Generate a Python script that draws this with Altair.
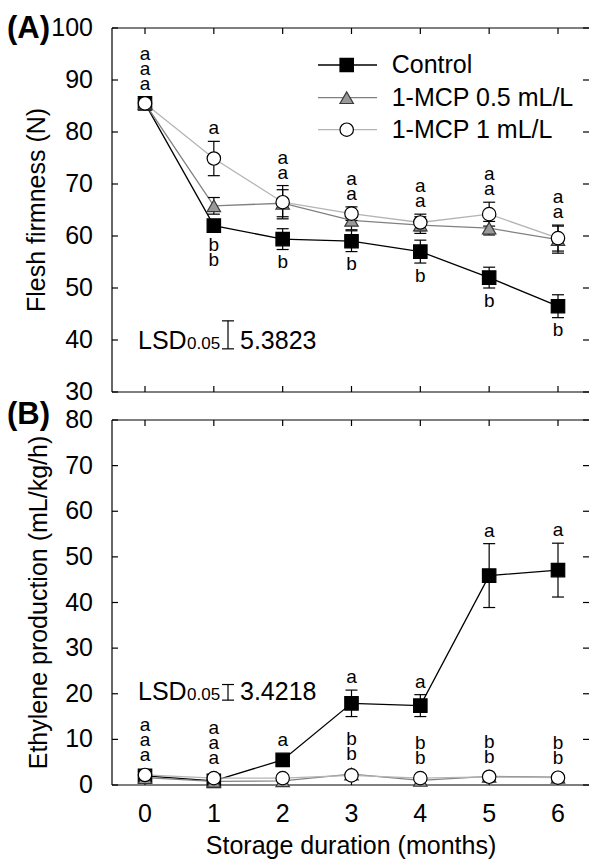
import altair as alt
import pandas as pd

# ---------------- data ----------------
months = [0, 1, 2, 3, 4, 5, 6]
series_names = ["Control", "1-MCP 0.5 mL/L", "1-MCP 1 mL/L"]

# (A) flesh firmness (N)
firm_control = [85.5, 62.0, 59.4, 59.0, 57.0, 52.0, 46.5]
firm_control_err = [1.0, 1.0, 2.0, 2.0, 2.2, 2.0, 2.2]
firm_mcp05 = [85.5, 65.8, 66.3, 63.0, 62.1, 61.5, 59.3]
firm_mcp05_err = [1.0, 1.6, 2.6, 1.8, 1.6, 1.3, 2.6]
firm_mcp1 = [85.5, 74.9, 66.5, 64.3, 62.6, 64.2, 59.6]
firm_mcp1_err = [1.0, 3.3, 3.2, 1.3, 1.6, 2.3, 2.5]

# (B) ethylene production (mL/kg/h)
eth_control = [2.0, 0.9, 5.5, 17.9, 17.4, 45.9, 47.1]
eth_control_err = [0.4, 0.3, 0.7, 2.9, 2.4, 7.0, 5.9]
eth_mcp05 = [1.6, 0.8, 0.9, 2.4, 1.0, 1.9, 1.7]
eth_mcp05_err = [0.3, 0.2, 0.2, 0.4, 0.2, 0.3, 0.3]
eth_mcp1 = [2.2, 1.5, 1.5, 2.1, 1.5, 1.8, 1.6]
eth_mcp1_err = [0.4, 0.3, 0.3, 0.4, 0.3, 0.3, 0.3]

# significance letters: month, side, group ("C"=control, "M"=both 1-MCP, "A"=all), letters
top_letter_month = [0, 1, 1, 2, 2, 3, 3, 4, 4, 5, 5, 6, 6]
top_letter_side = ["above", "above", "below", "above", "below", "above", "below",
                   "above", "below", "above", "below", "above", "below"]
top_letter_group = ["A", "M", "C", "M", "C", "M", "C", "M", "C", "M", "C", "M", "C"]
top_letter_text = ["aaa", "a", "bb", "aa", "b", "aa", "b", "aa", "b", "aa", "b", "aa", "b"]

bot_letter_month = [0, 1, 2, 3, 3, 4, 4, 5, 5, 6, 6]
bot_letter_side = ["above"] * 11
bot_letter_group = ["A", "A", "C", "C", "M", "C", "M", "C", "M", "C", "M"]
bot_letter_text = ["aaa", "aaa", "a", "a", "bb", "a", "bb", "a", "bb", "a", "bb"]

y_ticks_top = [30, 40, 50, 60, 70, 80, 90, 100]
y_ticks_bot = [0, 10, 20, 30, 40, 50, 60, 70, 80]

LSD_TOP = 5.3823
LSD_BOT = 3.4218

# ---------------- style ----------------
FONT = "Liberation Sans"
FS = 25
W = 478
H_TOP = 364
H_BOT = 365
LEFT_MARGIN = 112
TOP_MARGIN = 28
X_DOMAIN = [-0.4794, 6.465]
TOP_DOMAIN = [30, 100]
BOT_DOMAIN = [0, 80]
MARK_SIZE = 180
R_PX = MARK_SIZE ** 0.5 / 2

line_color = {"Control": "#000000", "1-MCP 0.5 mL/L": "#808080", "1-MCP 1 mL/L": "#b4b4b4"}
fill_color = {"Control": "#000000", "1-MCP 0.5 mL/L": "#999999", "1-MCP 1 mL/L": "#ffffff"}
stroke_color = {"Control": "#000000", "1-MCP 0.5 mL/L": "#3a3a3a", "1-MCP 1 mL/L": "#000000"}
shape_of = {"Control": "square", "1-MCP 0.5 mL/L": "triangle-up", "1-MCP 1 mL/L": "circle"}
group_members = {"C": ["Control"], "M": ["1-MCP 0.5 mL/L", "1-MCP 1 mL/L"], "A": series_names}


def long_df(means, errs):
    rows = []
    for s, m, e in zip(series_names, means, errs):
        for mo, v, er in zip(months, m, e):
            rows.append(dict(month=mo, series=s, mean=v, err=er, lo=v - er, hi=v + er))
    return pd.DataFrame(rows)


def letters_df(df, ppu, lmonth, lside, lgroup, ltext):
    rows = []
    for mo, side, grp, txt in zip(lmonth, lside, lgroup, ltext):
        sub = df[(df.month == mo) & (df.series.isin(group_members[grp]))]
        if side == "above":
            anchor = max(max(sub.hi), max(sub["mean"]) + R_PX / ppu)
            for k, ch in enumerate(txt):
                rows.append(dict(month=mo, ly=anchor + (13 + 15 * k) / ppu, t=ch))
        else:
            anchor = min(min(sub.lo), min(sub["mean"]) - R_PX / ppu)
            for k, ch in enumerate(txt):
                rows.append(dict(month=mo, ly=anchor - (12.5 + 15.5 * k) / ppu, t=ch))
    return pd.DataFrame(rows)


def panel(df, ldf, y_domain, height, y_title, yticks, lsd, lsd_base, show_x_labels,
          panel_label, panel_label_y, legend, title_x):
    xs = alt.Scale(domain=X_DOMAIN, nice=False, zero=False)
    ys = alt.Scale(domain=y_domain, nice=False, zero=False)

    X = lambda f: alt.X(f, scale=xs, axis=None)
    Y = lambda f: alt.Y(f, scale=ys, axis=None)
    DY = lambda v: alt.Y(datum=v, scale=ys, axis=None)

    base = alt.Chart(df)
    one = alt.Chart(pd.DataFrame({"a": [0]}))
    xt = pd.DataFrame({"t": months})
    yt = pd.DataFrame({"t": yticks})
    layers = []

    # invisible anchor fixing the outer margins of the figure
    if legend:
        layers.append(one.mark_rule(opacity=0, strokeWidth=0)
                      .encode(x=alt.value(-LEFT_MARGIN), x2=alt.value(0),
                              y=alt.value(-TOP_MARGIN)))

    # frame lines: left, bottom, top
    layers.append(one.mark_rule(color="black", strokeWidth=1.2)
                  .encode(x=alt.value(0), y=alt.value(0), y2=alt.value(height)))
    layers.append(one.mark_rule(color="black", strokeWidth=1.2)
                  .encode(x=alt.value(0), x2=alt.value(W - 1), y=alt.value(height)))
    layers.append(one.mark_rule(color="black", strokeWidth=1.2)
                  .encode(x=alt.value(0), x2=alt.value(W - 1), y=alt.value(0)))

    # y tick labels and title
    layers.append(alt.Chart(yt).mark_text(font=FONT, fontSize=FS, color="black",
                                          align="right", baseline="middle")
                  .encode(y=Y("t:Q"), x=alt.value(-19), text=alt.Text("t:Q", format="d")))
    layers.append(one.mark_text(font=FONT, fontSize=FS, color="black", angle=270,
                                align="center", baseline="middle", text=y_title)
                  .encode(x=alt.value(title_x), y=alt.value(height / 2)))
    if show_x_labels:
        layers.append(alt.Chart(xt).mark_text(font=FONT, fontSize=FS, color="black",
                                              align="center", baseline="alphabetic")
                      .encode(x=X("t:Q"), y=alt.value(height + 37),
                              text=alt.Text("t:Q", format="d")))
        layers.append(one.mark_text(font=FONT, fontSize=FS, color="black",
                                    align="center", baseline="alphabetic",
                                    text="Storage duration (months)")
                      .encode(x=alt.value(W / 2), y=alt.value(height + 69)))

    # inward ticks
    for yv in [3, height - 3]:
        layers.append(alt.Chart(xt).mark_tick(orient="vertical", size=6, thickness=1.2,
                                              color="black", opacity=1).encode(
            x=X("t:Q"), y=alt.value(yv)))
    for xv in [3, W - 4]:
        layers.append(alt.Chart(yt).mark_tick(orient="horizontal", size=6, thickness=1.2,
                                              color="black", opacity=1).encode(
            y=Y("t:Q"), x=alt.value(xv)))

    # lines
    for s in series_names:
        layers.append(base.transform_filter(alt.datum.series == s)
                      .mark_line(color=line_color[s], strokeWidth=1.3)
                      .encode(x=X("month:Q"), y=Y("mean:Q")))
    # error bars
    layers.append(base.mark_rule(color="black", strokeWidth=1.2).encode(
        x=X("month:Q"), y=Y("lo:Q"), y2="hi:Q"))
    for col in ["lo", "hi"]:
        layers.append(base.mark_tick(orient="horizontal", size=12, thickness=1.2,
                                     color="black", opacity=1).encode(
            x=X("month:Q"), y=Y(f"{col}:Q")))
    # markers
    for s in series_names:
        layers.append(base.transform_filter(alt.datum.series == s)
                      .mark_point(shape=shape_of[s], filled=True, fill=fill_color[s],
                                  stroke=stroke_color[s], strokeWidth=1.2,
                                  size=MARK_SIZE, opacity=1)
                      .encode(x=X("month:Q"), y=Y("mean:Q")))
    # letters
    layers.append(alt.Chart(ldf).mark_text(font=FONT, fontSize=19, color="black",
                                           baseline="middle", align="center").encode(
        x=X("month:Q"), y=Y("ly:Q"), text="t:N"))

    # LSD annotation
    layers.append(one.mark_text(font=FONT, fontSize=FS, color="black", align="left",
                                baseline="alphabetic", text="LSD")
                  .encode(x=alt.value(26), y=DY(lsd_base)))
    layers.append(one.mark_text(font=FONT, fontSize=17, color="black", align="left",
                                baseline="alphabetic", text="0.05")
                  .encode(x=alt.value(75), y=DY(lsd_base)))
    layers.append(one.mark_text(font=FONT, fontSize=FS, color="black", align="left",
                                baseline="alphabetic", text=f"{lsd:.4f}")
                  .encode(x=alt.value(128), y=DY(lsd_base)))
    layers.append(one.mark_rule(color="black", strokeWidth=1.2)
                  .encode(x=alt.value(116), y=DY(lsd_base), y2=alt.Y2(datum=lsd_base + lsd)))
    for v in [lsd_base, lsd_base + lsd]:
        layers.append(one.mark_tick(orient="horizontal", size=12, thickness=1.2,
                                    color="black", opacity=1)
                      .encode(x=alt.value(116), y=DY(v)))

    # panel label
    layers.append(one.mark_text(font=FONT, fontSize=31, fontWeight="bold", color="black",
                                align="left", baseline="alphabetic", text=panel_label)
                  .encode(x=alt.value(-105), y=alt.value(panel_label_y)))

    # legend
    if legend:
        rows_y = [37, 69.7, 101.7]
        for s, ry in zip(series_names, rows_y):
            layers.append(one.mark_rule(color=line_color[s], strokeWidth=1.3)
                          .encode(x=alt.value(206), x2=alt.value(265), y=alt.value(ry)))
            layers.append(one.mark_point(shape=shape_of[s], filled=True, fill=fill_color[s],
                                         stroke=stroke_color[s], strokeWidth=1.2,
                                         size=MARK_SIZE, opacity=1)
                          .encode(x=alt.value(234.7), y=alt.value(ry)))
            layers.append(one.mark_text(font=FONT, fontSize=FS, color="black", align="left",
                                        baseline="middle", text=s)
                          .encode(x=alt.value(279.7), y=alt.value(ry)))

    return alt.layer(*layers).properties(width=W, height=height)


df_top = long_df([firm_control, firm_mcp05, firm_mcp1],
                 [firm_control_err, firm_mcp05_err, firm_mcp1_err])
df_bot = long_df([eth_control, eth_mcp05, eth_mcp1],
                 [eth_control_err, eth_mcp05_err, eth_mcp1_err])
ppu_top = H_TOP / (TOP_DOMAIN[1] - TOP_DOMAIN[0])
ppu_bot = H_BOT / (BOT_DOMAIN[1] - BOT_DOMAIN[0])
ldf_top = letters_df(df_top, ppu_top, top_letter_month, top_letter_side,
                     top_letter_group, top_letter_text)
ldf_bot = letters_df(df_bot, ppu_bot, bot_letter_month, bot_letter_side,
                     bot_letter_group, bot_letter_text)

top = panel(df_top, ldf_top, TOP_DOMAIN, H_TOP, "Flesh firmness (N)", y_ticks_top,
            LSD_TOP, 38.3, False, "(A)", 9.5, True, -75)
bot = panel(df_bot, ldf_bot, BOT_DOMAIN, H_BOT, "Ethylene production (mL/kg/h)", y_ticks_bot,
            LSD_BOT, 18.6, True, "(B)", 4, False, -73)

chart = alt.vconcat(top, bot, spacing=28, bounds="flush").properties(
    padding={"left": 0, "top": 0, "right": 0, "bottom": 0}
).configure(background="white").configure_view(stroke=None)

chart.save("out.html", embed_options={"renderer": "svg", "actions": False})
